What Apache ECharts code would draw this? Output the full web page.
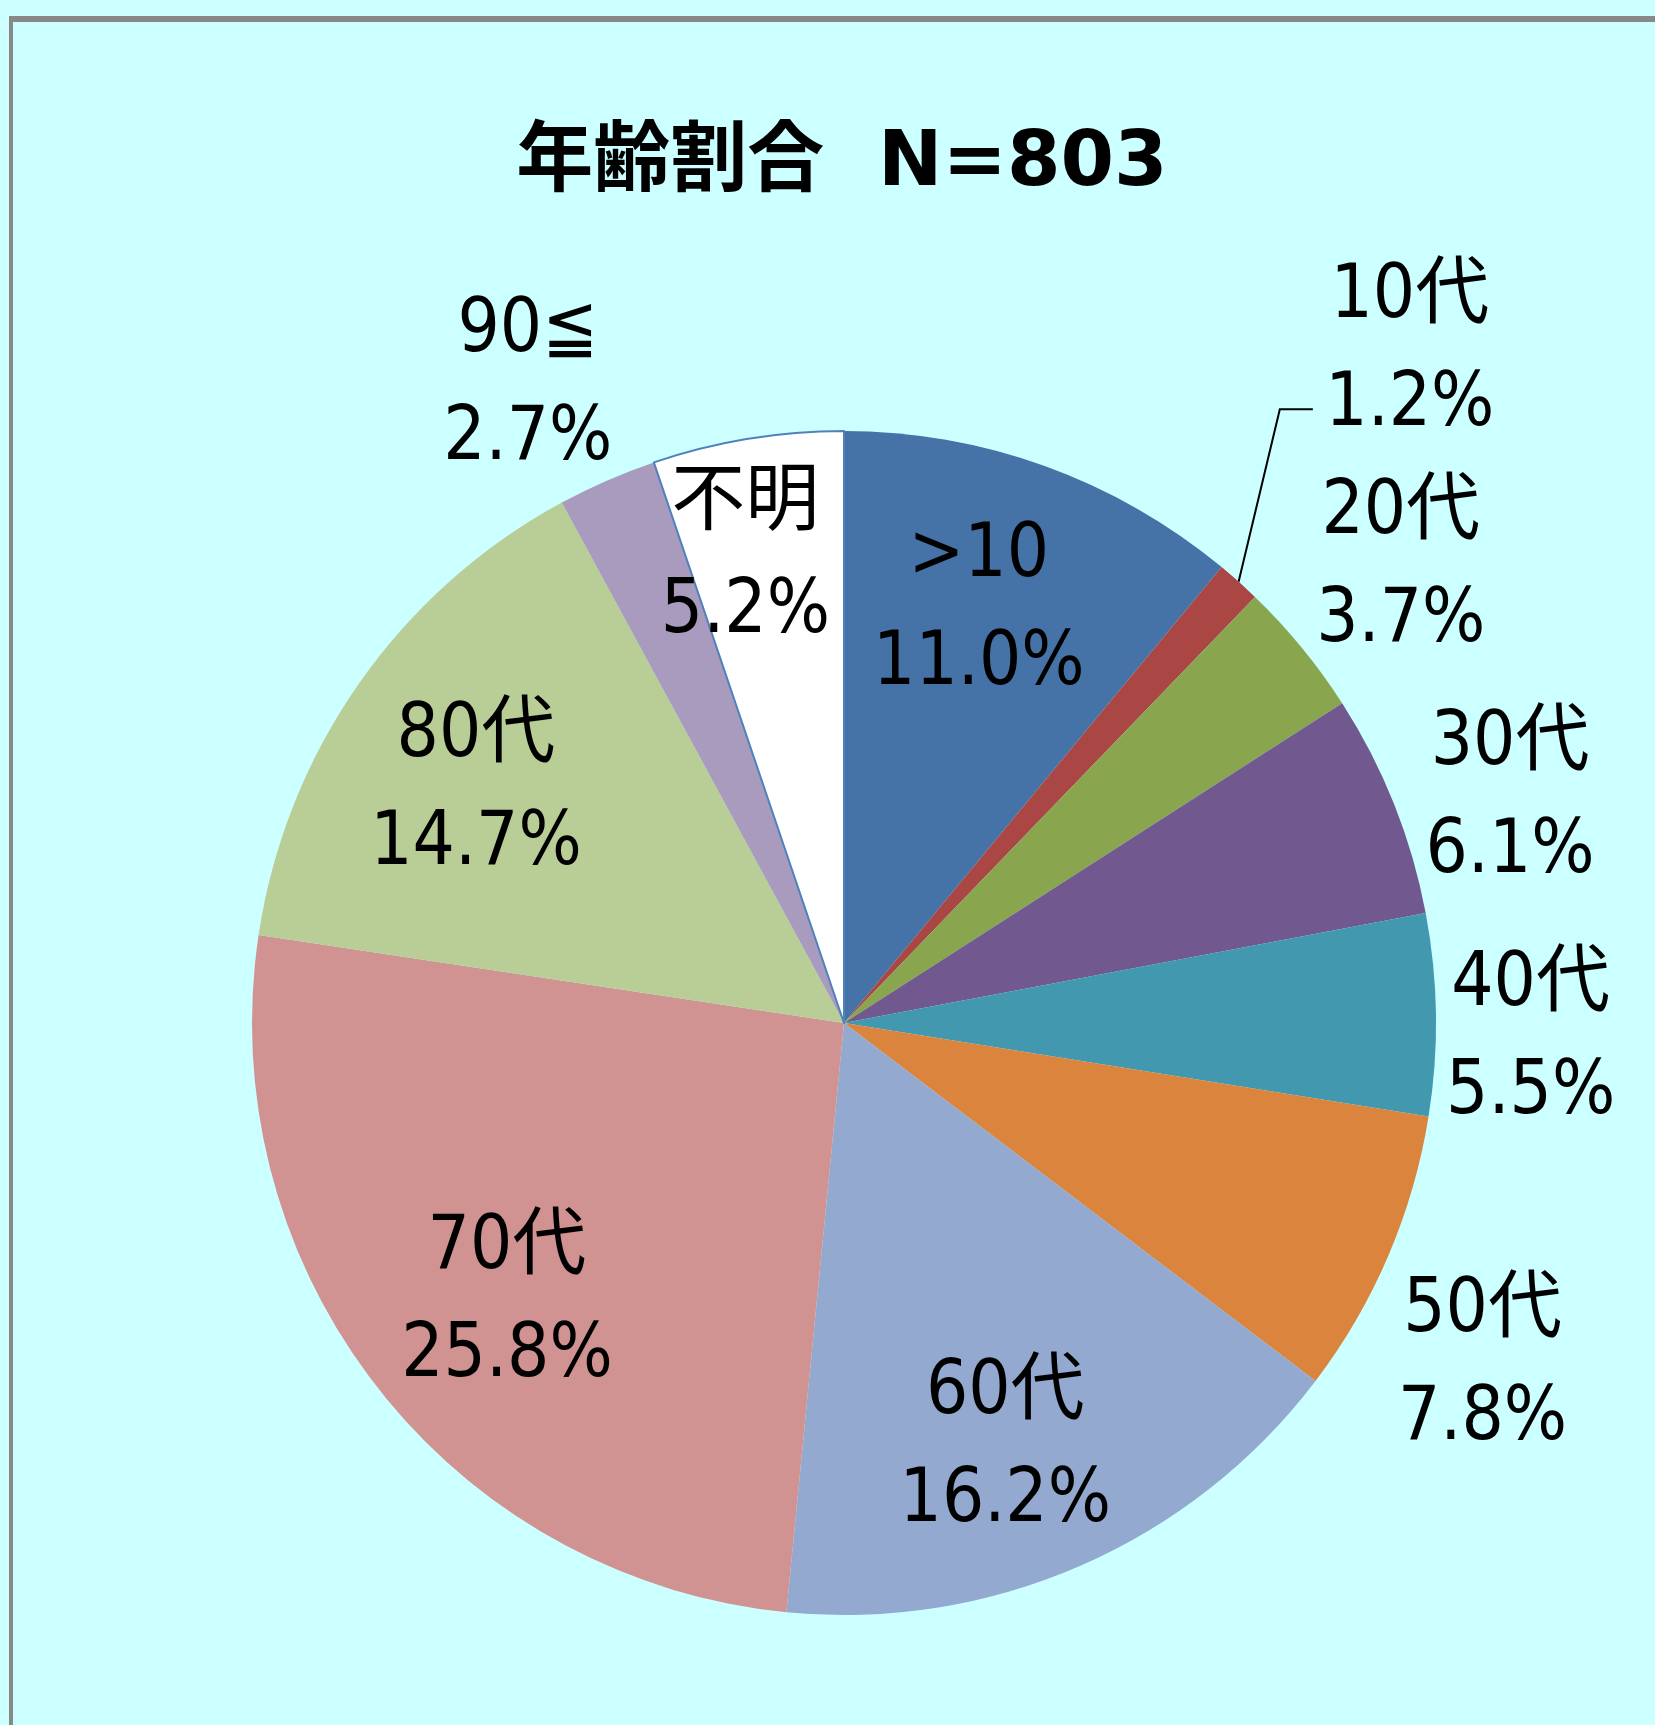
<!DOCTYPE html>
<html>
<head>
<meta charset="utf-8">
<title>年齢割合</title>
<script src="https://cdn.jsdelivr.net/npm/echarts@6/dist/echarts.min.js"></script>
<style>
  html, body { margin: 0; padding: 0; background: #CCFFFF; }
  #main { width: 1655px; height: 1725px; }
</style>
</head>
<body>
<div id="main"></div>
<script>
// 年齢区分と割合(%)
var categories = ['>10', '10代', '20代', '30代', '40代', '50代', '60代', '70代', '80代', '90≦', '不明'];
var values = [11.0, 1.2, 3.7, 6.1, 5.5, 7.8, 16.2, 25.8, 14.7, 2.7, 5.2];
var colors = ['#4572A7', '#AA4643', '#89A54E', '#71588F', '#4198AF', '#DB843D',
              '#93A9CF', '#D19392', '#B9CD96', '#A99BBD', '#FFFFFF'];

// ラベル位置: 中心からの距離(半径比)と角度の微調整(度)
var labelDist = [0.74, 1.49, 1.22, 1.19, 1.16, 1.22, 0.76, 0.735, 0.74, 1.21, 0.81];
var labelShift = [-1.9, -1.9, -0.2, 2.7, 1.8, 4.7, 2.6, -1.3, -2.2, -2.6, -2.5];

var cx = 844, cy = 1023, R = 592;
var total = values.reduce(function (a, b) { return a + b; }, 0);
var labelFont = "'DejaVu Sans Condensed', 'Noto Sans', 'Noto Sans CJK JP', sans-serif";

function midAngle(i) {
  var s = 0;
  for (var j = 0; j < i; j++) s += values[j];
  return (s + values[i] / 2) / total * 2 * Math.PI;
}

var myChart = echarts.init(document.getElementById('main'));

var pieData = categories.map(function (name, i) {
  var item = { name: name, value: values[i], itemStyle: { color: colors[i] } };
  if (name === '不明') {
    item.itemStyle.borderColor = '#4F81BD';
    item.itemStyle.borderWidth = 2;
  }
  if (name === '10代') {
    item.labelLine = { show: true, lineStyle: { color: '#000', width: 2 } };
  }
  return item;
});

var option = {
  backgroundColor: '#CCFFFF',
  animation: false,
  title: {
    text: '年齢割合  N=803',
    left: 837,
    top: 122,
    textAlign: 'center',
    textStyle: {
      fontFamily: "'DejaVu Sans', 'Noto Sans CJK JP', sans-serif",
      fontSize: 77,
      fontWeight: 'bold',
      color: '#000'
    }
  },
  graphic: [
    { type: 'rect', shape: { x: 9, y: 16, width: 1646, height: 6 }, style: { fill: '#888888' }, silent: true },
    { type: 'rect', shape: { x: 9, y: 16, width: 4, height: 1709 }, style: { fill: '#888888' }, silent: true }
  ],
  series: [{
    type: 'pie',
    center: [cx, cy],
    radius: R,
    startAngle: 90,
    clockwise: true,
    avoidLabelOverlap: false,
    emphasis: { disabled: true },
    itemStyle: { borderWidth: 0 },
    label: {
      show: true,
      position: 'outside',
      width: 320,
      overflow: 'none',
      fontFamily: labelFont,
      fontSize: 74,
      lineHeight: 108,
      color: '#000',
      formatter: function (p) {
        return p.name + '\n' + p.value.toFixed(1) + '%';
      }
    },
    labelLine: { show: false },
    labelLayout: function (params) {
      var i = params.dataIndex;
      var a = midAngle(i) + labelShift[i] * Math.PI / 180;
      var d = labelDist[i] * R;
      var x = cx + d * Math.sin(a);
      var y = cy - d * Math.cos(a) + 5;
      var res = { x: x, y: y, align: 'center', verticalAlign: 'middle' };
      if (categories[i] === '10代') {
        var m = midAngle(i);
        res.labelLinePoints = [
          [cx + R * Math.sin(m), cy - R * Math.cos(m)],
          [x - 130, y + 58],
          [x - 97, y + 58]
        ];
      }
      return res;
    },
    data: pieData
  }]
};

myChart.setOption(option);
</script>
</body>
</html>
